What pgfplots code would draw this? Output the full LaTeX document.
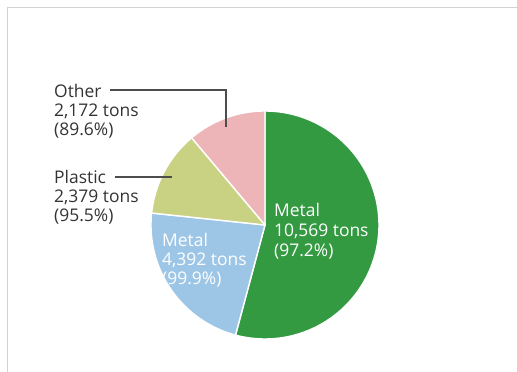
\documentclass[border=0pt]{standalone}
\usepackage{fontspec}
\setmainfont{Open Sans}
\usepackage{pgfplots}
\usepackage{pgfplotstable}
\pgfplotsset{compat=1.18}
\definecolor{cMetalA}{HTML}{339A42}
\definecolor{cMetalB}{HTML}{9DC6E6}
\definecolor{cPlastic}{HTML}{C9D283}
\definecolor{cOther}{HTML}{EDB5B8}
\definecolor{cText}{HTML}{333333}
\definecolor{cLead}{HTML}{4D4D4D}
\definecolor{cFrame}{HTML}{D2D2D2}
\pgfplotstableread{
label value
MetalA 10569
MetalB 4392
Plastic 2379
Other 2172
}\piedata
\pgfplotstablegetelem{0}{value}\of\piedata\edef\vA{\pgfplotsretval}%
\pgfplotstablegetelem{1}{value}\of\piedata\edef\vB{\pgfplotsretval}%
\pgfplotstablegetelem{2}{value}\of\piedata\edef\vC{\pgfplotsretval}%
\pgfplotstablegetelem{3}{value}\of\piedata\edef\vD{\pgfplotsretval}%
\edef\tot{\fpeval{\vA+\vB+\vC+\vD}}%
\edef\aA{90}%
\edef\aB{\fpeval{\aA-360*\vA/\tot}}%
\edef\aC{\fpeval{\aB-360*\vB/\tot}}%
\edef\aD{\fpeval{\aC-360*\vC/\tot}}%
\edef\aE{\fpeval{\aD-360*\vD/\tot}}%
\begin{document}%
\begin{tikzpicture}
\useasboundingbox (0,0) rectangle (517bp,372bp);
\begin{axis}[scale only axis, width=517bp, height=372bp,
  xmin=0, xmax=517, ymin=0, ymax=372, hide axis, clip=false,
  at={(0,0)}, anchor=origin]
\draw[cFrame, line width=1.6bp] (7.5,0) -- (7.5,364.5) -- (517,364.5);
\addplot[fill=cMetalA, draw=white, line width=1.4bp, line join=round, domain=\aB:\aA, samples=90] ({265+114*cos(x)},{147+114*sin(x)}) -- (265,147) -- cycle;
\addplot[fill=cMetalB, draw=white, line width=1.4bp, line join=round, domain=\aC:\aB, samples=60] ({265+114*cos(x)},{147+114*sin(x)}) -- (265,147) -- cycle;
\addplot[fill=cPlastic, draw=white, line width=1.4bp, line join=round, domain=\aD:\aC, samples=40] ({265+114*cos(x)},{147+114*sin(x)}) -- (265,147) -- cycle;
\addplot[fill=cOther, draw=white, line width=1.4bp, line join=round, domain=\aE:\aD, samples=40] ({265+114*cos(x)},{147+114*sin(x)}) -- (265,147) -- cycle;
\begin{scope}[every node/.style={anchor=base west, inner sep=0pt, font=\fontsize{17.5}{20}\selectfont}]
\node[text=white] at (274,155) {Metal};
\node[text=white] at (274,135) {10,569 tons};
\node[text=white] at (274,115) {(97.2\%)};
\node[text=white] at (162,125) {Metal};
\node[text=white] at (162,106) {4,392 tons};
\node[text=white] at (162,87) {(99.9\%)};
\node[text=cText] at (54,274) {Other};
\node[text=cText] at (54,255) {2,172 tons};
\node[text=cText] at (54,236) {(89.6\%)};
\node[text=cText] at (54,188) {Plastic};
\node[text=cText] at (54,169) {2,379 tons};
\node[text=cText] at (54,150) {(95.5\%)};
\end{scope}
\draw[cLead, line width=1.4bp] (110,282) -- (226,282) -- (226,245);
\draw[cLead, line width=1.4bp] (115,195) -- (172,195);
\end{axis}
\end{tikzpicture}%
\end{document}
